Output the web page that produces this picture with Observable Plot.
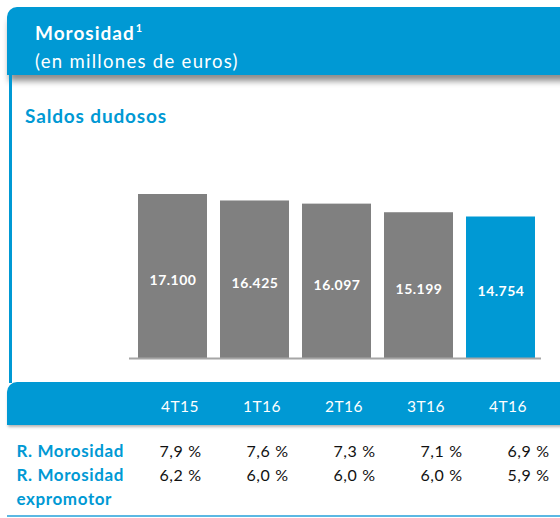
<!DOCTYPE html>
<html><head><meta charset="utf-8">
<script src="https://cdn.jsdelivr.net/npm/d3@7"></script>
<script src="https://cdn.jsdelivr.net/npm/@observablehq/plot@0.6"></script>
<style>
body{margin:0;background:#fff;}
#wrap{position:relative;width:560px;height:518px;overflow:hidden;font-family:Lato,sans-serif;background:#fff;}
.abs{position:absolute;}
#head{left:7px;top:7px;width:570px;height:68px;background:#0099d4;border-radius:10px 0 0 0;box-shadow:0 8px 6px -2px rgba(0,0,0,0.45);}
#t1{left:35px;top:22px;color:#fff;font-weight:700;font-size:19px;letter-spacing:1px;line-height:1.2;white-space:nowrap;}
#t1 sup{font-size:11px;vertical-align:0;position:relative;top:-8px;margin-left:1px;}
#t2{left:35px;top:50px;color:#fff;font-size:18.5px;letter-spacing:1.3px;line-height:1.2;white-space:nowrap;}
#vline{left:9px;top:75px;width:3px;height:308px;background:#0099d4;}
#sub{left:25px;top:105px;color:#0099d4;font-weight:700;font-size:19px;letter-spacing:0.85px;line-height:1.2;white-space:nowrap;}
#band{left:7px;top:382px;width:570px;height:43px;background:#0099d4;border-radius:10px 0 0 0;box-shadow:0 3px 3px -1px rgba(0,0,0,0.3);}
#bline{left:7px;top:515px;width:560px;height:2px;background:#5bb8e3;}
</style></head>
<body>
<div id="wrap">
  <div id="head" class="abs"></div>
  <div id="t1" class="abs">Morosidad<sup>1</sup></div>
  <div id="t2" class="abs">(en millones de euros)</div>
  <div id="vline" class="abs"></div>
  <div id="sub" class="abs">Saldos dudosos</div>
  <div id="band" class="abs"></div>
  <div id="bline" class="abs"></div>
</div>
<script>
const categories = ["4T15", "1T16", "2T16", "3T16", "4T16"];
const saldos = [17100, 16425, 16097, 15199, 14754];
const rowLabels = ["R. Morosidad", "R. Morosidad\nexpromotor"];
const ratioMorosidad = [7.9, 7.6, 7.3, 7.1, 6.9];
const ratioExpromotor = [6.2, 6.0, 6.0, 6.0, 5.9];

const BLUE = "#0099d4", GREY = "#808080";
const loc = d3.formatLocale({decimal: ",", thousands: ".", grouping: [3], currency: ["", " €"]});
const fmtInt = loc.format(",d");
const fmt1 = loc.format(".1f");
const fmtPct = v => fmt1(v) + " %";

const bars = categories.map((q, i) => ({q, v: saldos[i]}));
const last = categories[categories.length - 1];

const baseStyle = {position: "absolute", left: "0px", background: "transparent", fontFamily: "Lato, sans-serif", overflow: "visible"};

const chart = Plot.plot({
  width: 560, height: 518,
  marginTop: 194, marginBottom: 160, marginLeft: 123, marginRight: 11,
  x: {type: "band", domain: categories, padding: 0.16, axis: null},
  y: {domain: [0, d3.max(saldos)], axis: null},
  color: {type: "identity"},
  style: {...baseStyle, top: "0px", letterSpacing: "0.5px"},
  marks: [
    Plot.barY(bars, {x: "q", y: "v", fill: d => d.q === last ? BLUE : GREY}),
    Plot.ruleY([0], {stroke: "#a6a6a6", strokeWidth: 2, insetLeft: 6, insetRight: 8}),
    Plot.text(bars, {x: "q", y: d => d.v / 2, text: d => fmtInt(d.v), fill: "white", fontWeight: "bold", fontSize: 14, dy: 4}),
    Plot.text(categories, {x: d => d, frameAnchor: "bottom", lineAnchor: "bottom", dy: 53, dx: 7, fill: "white", fontSize: 15.5})
  ]
});

const rows = [];
rowLabels.forEach((r, j) => {
  const arr = j === 0 ? ratioMorosidad : ratioExpromotor;
  categories.forEach((q, i) => rows.push({r, q, v: arr[i]}));
});

const table = Plot.plot({
  width: 560, height: 136,
  marginTop: 63, marginBottom: 49, marginLeft: 179, marginRight: 32,
  x: {type: "point", domain: categories, padding: 0, axis: null},
  y: {type: "point", domain: rowLabels, padding: 0, axis: null},
  style: {...baseStyle, top: "382px", letterSpacing: "0.6px"},
  marks: [
    Plot.text(rows, {x: "q", y: "r", text: d => fmtPct(d.v), lineAnchor: "top", fontSize: 16, fill: "#111"}),
    Plot.text(rowLabels, {y: d => d, frameAnchor: "left", dx: -163, dy: -5, textAnchor: "start", lineAnchor: "top", lineHeight: 1.38, fill: BLUE, fontWeight: "bold", fontSize: 17})
  ]
});

const wrap = document.getElementById("wrap");
wrap.appendChild(chart);
wrap.appendChild(table);
</script>
</body></html>
